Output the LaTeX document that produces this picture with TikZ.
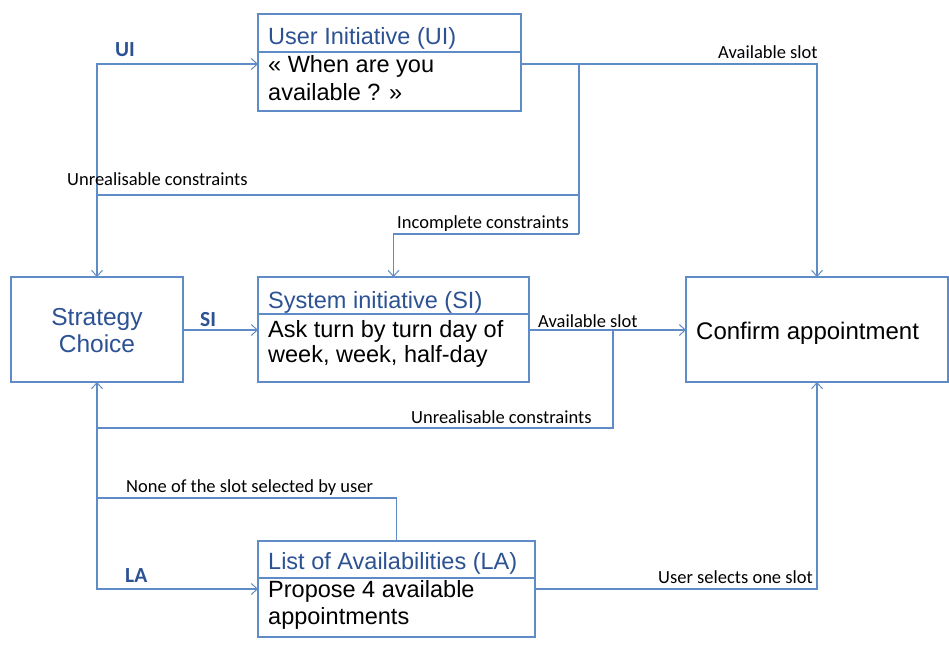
\documentclass[tikz,border=0pt]{standalone}
\usepackage{fontspec}
\setmainfont{Liberation Sans}
\newfontfamily\labelfont{Carlito}
\usetikzlibrary{arrows.meta}
\definecolor{wire}{RGB}{95,139,199}
\definecolor{heading}{RGB}{44,82,148}
\begin{document}
\begin{tikzpicture}[x=1pt,y=-1pt,
  box/.style={draw=wire, line width=1.2pt, fill=white, inner sep=0pt, outer sep=0pt, anchor=north west},
  link/.style={draw=wire, line width=1.2pt},
  arrow/.style={link, -{Straight Barb[length=6pt,width=11pt,line width=1pt]}},
  ttl/.style={font=\fontsize{23.5}{27}\selectfont, text=heading, inner sep=0pt, anchor=base west},
  txt/.style={font=\fontsize{23.5}{27}\selectfont, text=black, inner sep=0pt, anchor=base west},
  lbl/.style={font=\labelfont\fontsize{18.5}{22}\selectfont, text=black, inner sep=0pt, anchor=base west},
  key/.style={font=\labelfont\bfseries\fontsize{21.5}{24}\selectfont, text=heading, inner sep=0pt, anchor=base west},
]
\useasboundingbox (0,0) rectangle (949,646);

% ---- boxes ----
\node[box, minimum width=263pt, minimum height=97pt] (ui) at (258,14) {};
\draw[link] (ui.west |- 0,52) -- (ui.east |- 0,52);
\node[ttl] (uit) at (268,44) {User Initiative (UI)};
\node[txt] (uib1) at (268,72) {« When are you};
\node[txt] (uib2) at (268,100) {available ? »};

\node[box, minimum width=172pt, minimum height=105pt] (sc) at (11,277) {};
\node[ttl, anchor=base, font=\fontsize{24.5}{28}\selectfont] (sct1) at (97,325) {Strategy};
\node[ttl, anchor=base, font=\fontsize{24.5}{28}\selectfont] (sct2) at (97,352) {Choice};

\node[box, minimum width=271pt, minimum height=105pt] (si) at (258,277) {};
\draw[link] (si.west |- 0,314) -- (si.east |- 0,314);
\node[ttl] (sit) at (268,308) {System initiative (SI)};
\node[txt] (sib1) at (268,337) {Ask turn by turn day of};
\node[txt] (sib2) at (268,362) {week, week, half-day};

\node[box, minimum width=262pt, minimum height=105pt] (ca) at (686,277) {};
\node[txt, font=\fontsize{24}{28}\selectfont] (cat) at (696,339) {Confirm appointment};

\node[box, minimum width=277pt, minimum height=96pt] (la) at (258,541) {};
\draw[link] (la.west |- 0,578) -- (la.east |- 0,578);
\node[ttl] (lat) at (268,569) {List of Availabilities (LA)};
\node[txt] (lab1) at (268,597) {Propose 4 available};
\node[txt] (lab2) at (268,624) {appointments};

% ---- routing points ----
\coordinate (fork) at (579,64);
\coordinate (uly) at (579,195);
\coordinate (incy) at (579,234);
\coordinate (top) at (sc.north |- fork);
\coordinate (midrow) at (0,330);
\coordinate (sidrop) at (613,330);
\coordinate (sibot) at (613,428);
\coordinate (nonerow) at (0,498);
\coordinate (larow) at (0,589);

% ---- connectors ----
\draw[arrow] (ui.east |- fork) -- (ca.north |- fork) -- (ca.north);
\draw[link] (fork) -- (incy);
\draw[arrow] (uly) -- (sc.north |- uly) -- (sc.north);
\draw[arrow] (incy) -- (si.north |- incy) -- (si.north);
\draw[arrow] (sc.north |- uly) -- (top) -- (ui.west |- top);

\draw[arrow] (sc.east |- midrow) -- (si.west |- midrow);
\draw[arrow] (si.east |- midrow) -- (ca.west |- midrow);
\draw[arrow] (sidrop) -- (sibot) -- (sc.south |- sibot) -- (sc.south);

\draw[arrow] (sc.south |- sibot) -- (sc.south |- larow) -- (la.west |- larow);
\draw[link] (la.north) -- (la.north |- nonerow) -- (sc.south |- nonerow);
\draw[arrow] (la.east |- larow) -- (ca.south |- larow) -- (ca.south);

% ---- labels ----
\node[key] (kui) at (115,56) {UI};
\node[key] (ksi) at (200,326) {SI};
\node[key] (kla) at (125,582) {LA};
\node[lbl] (l1) at (718,58) {Available slot};
\node[lbl] (l2) at (67,185) {Unrealisable constraints};
\node[lbl] (l3) at (397,228) {Incomplete constraints};
\node[lbl] (l4) at (538,327) {Available slot};
\node[lbl] (l5) at (411,423) {Unrealisable constraints};
\node[lbl] (l6) at (126,492) {None of the slot selected by user};
\node[lbl] (l7) at (658,583) {User selects one slot};
\end{tikzpicture}
\end{document}
